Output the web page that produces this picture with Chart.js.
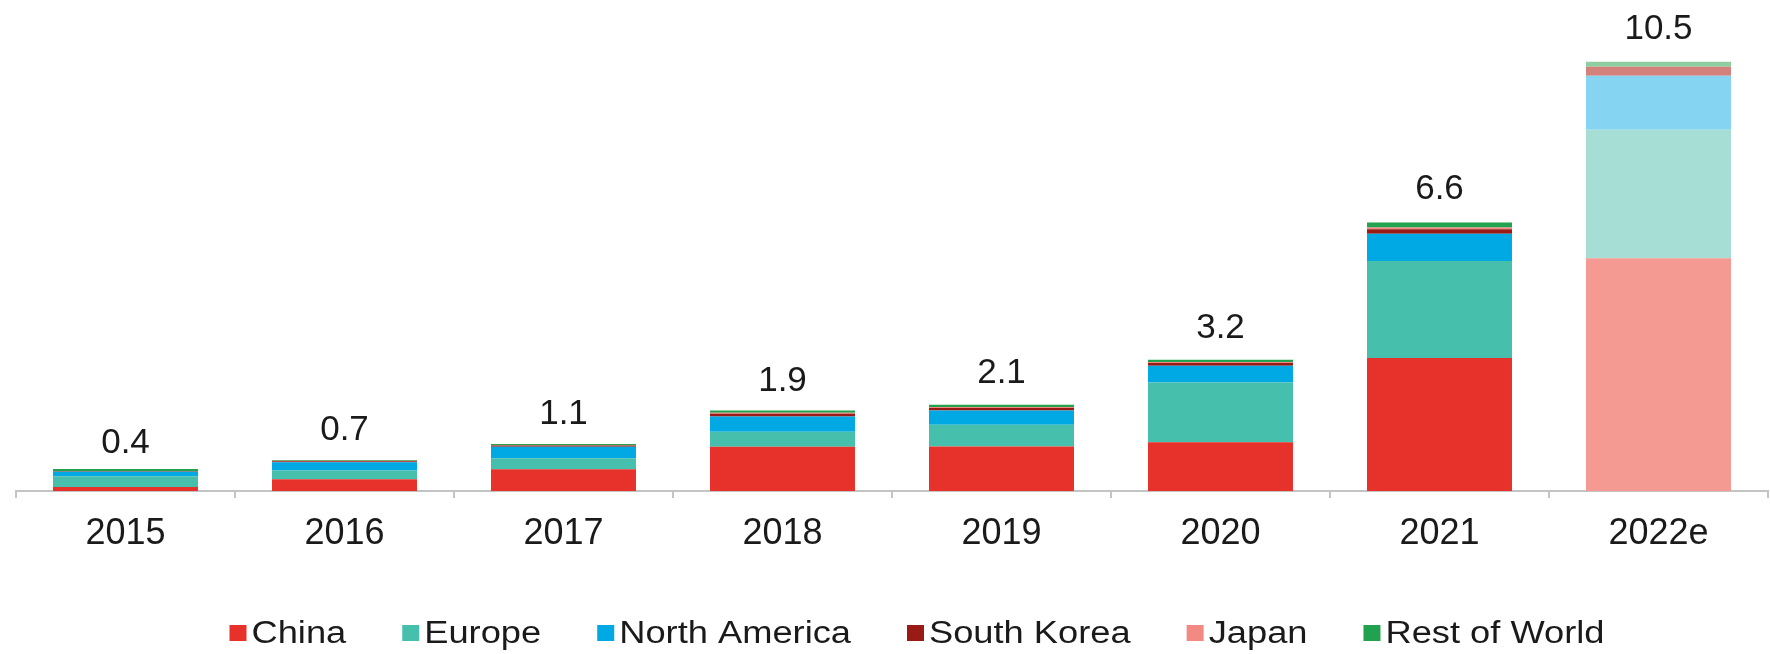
<!DOCTYPE html>
<html>
<head>
<meta charset="utf-8">
<script src="https://cdn.jsdelivr.net/npm/chart.js@4/dist/chart.umd.min.js"></script>
<style>
html,body{margin:0;padding:0;background:#fff;}
#wrap{width:1770px;height:654px;position:relative;}
</style>
</head>
<body>
<div id="wrap"><canvas id="c" width="1770" height="654"></canvas></div>
<script>
// ---- data ----
const categories   = ['2015','2016','2017','2018','2019','2020','2021','2022e'];
const china        = [0.10, 0.29, 0.53, 1.08, 1.09, 1.19, 3.25, 5.69];
const europe       = [0.26, 0.21, 0.27, 0.37, 0.53, 1.46, 2.37, 3.14];
const northAmerica = [0.11, 0.20, 0.28, 0.37, 0.35, 0.41, 0.67, 1.32];
const southKorea   = [0.01, 0.03, 0.03, 0.07, 0.06, 0.07, 0.11, 0.22];
const japan        = [0.00, 0.01, 0.01, 0.02, 0.02, 0.02, 0.04, 0.00];
const restOfWorld  = [0.06, 0.02, 0.03, 0.06, 0.06, 0.06, 0.12, 0.12];
const totalLabels  = ['0.4','0.7','1.1','1.9','2.1','3.2','6.6','10.5'];
const seriesNames  = ['China','Europe','North America','South Korea','Japan','Rest of World'];

// ---- styling ----
const seriesValues   = [china, europe, northAmerica, southKorea, japan, restOfWorld];
const seriesColors   = ['#e6322a','#46bfac','#00a9e3','#9a1b16','#f28983','#22a24f'];
const estimateColors = ['#f59a93','#a6ded5','#85d4f1','#d4817c','#f8c5c2','#8fcea0'];
const FONT = '"Liberation Sans", Arial, sans-serif';
const TEXT = '#1a1a1a';

const datasets = seriesNames.map((name, i) => ({
  label: name,
  data: seriesValues[i],
  backgroundColor: ctx => (categories[ctx.dataIndex] || '').endsWith('e') ? estimateColors[i] : seriesColors[i],
  legendColor: seriesColors[i],
  borderWidth: 0,
  barPercentage: 0.662,
  categoryPercentage: 1
}));

const totalsPlugin = {
  id: 'totals',
  afterDatasetsDraw(chart) {
    const ctx = chart.ctx, xs = chart.scales.x, ys = chart.scales.y;
    ctx.save();
    ctx.font = '35px ' + FONT;
    ctx.fillStyle = TEXT;
    ctx.textAlign = 'center';
    ctx.textBaseline = 'alphabetic';
    totalLabels.forEach((t, i) => {
      ctx.fillText(t, xs.getPixelForValue(i), ys.getPixelForValue(parseFloat(t)) - 22);
    });
    ctx.restore();
  }
};

const legendPlugin = {
  id: 'customLegend',
  afterDraw(chart) {
    const ctx = chart.ctx;
    const fontSize = 31, stretch = 1.17, box = 17, boxGap = 5, itemGap = 56;
    ctx.save();
    ctx.font = fontSize + 'px ' + FONT;
    const items = chart.data.datasets.map(d => ({
      text: d.label, color: d.legendColor,
      w: ctx.measureText(d.label).width * stretch
    }));
    const total = items.reduce((s, it) => s + box + boxGap + it.w, 0) + itemGap * (items.length - 1);
    const ca = chart.chartArea;
    let x = (ca.left + ca.right) / 2 + 25 - total / 2;
    const yc = 633;
    items.forEach(it => {
      ctx.fillStyle = it.color;
      ctx.fillRect(x, yc - 8, box, 16);
      x += box + boxGap;
      ctx.save();
      ctx.translate(x, yc);
      ctx.scale(stretch, 1);
      ctx.fillStyle = TEXT;
      ctx.textAlign = 'left';
      ctx.textBaseline = 'middle';
      ctx.fillText(it.text, 0, 1);
      ctx.restore();
      x += it.w + itemGap;
    });
    ctx.restore();
  }
};

new Chart(document.getElementById('c'), {
  type: 'bar',
  data: { labels: categories, datasets },
  options: {
    responsive: false,
    animation: false,
    devicePixelRatio: 1,
    layout: { padding: { left: 16, right: 2, top: 0, bottom: 93 } },
    plugins: { legend: { display: false }, tooltip: { enabled: false } },
    scales: {
      x: {
        stacked: true,
        offset: true,
        grid: { display: true, offset: true, drawOnChartArea: false, drawTicks: true, tickLength: 7, color: '#c4c4c4', lineWidth: 2 },
        border: { display: true, color: '#c4c4c4', width: 2 },
        ticks: { font: { family: FONT, size: 36 }, color: TEXT, padding: 14, maxRotation: 0 },
        afterFit: s => { s.height = 70; }
      },
      y: { stacked: true, display: false, min: 0, max: 12 }
    }
  },
  plugins: [totalsPlugin, legendPlugin]
});
</script>
</body>
</html>
